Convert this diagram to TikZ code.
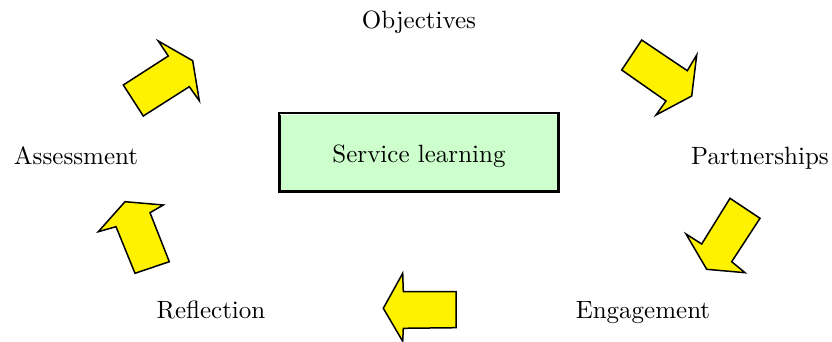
\documentclass[tikz,border=0pt]{standalone}
\usepackage{xcolor}
\usepackage{graphicx}
\usepackage{tikz}
\usetikzlibrary{positioning}

\definecolor{boxgreen}{HTML}{CCFFCC}
\newcommand{\bigtxt}[1]{\scalebox{2.5}{\fontsize{10}{12}\selectfont #1}}

\begin{document}
\begin{tikzpicture}[x=1pt, y=-1pt,
label/.style={anchor=base, inner sep=0pt},
centre/.style={rectangle, draw=black, line width=3pt, fill=boxgreen, minimum width=279pt, minimum height=77pt, inner sep=0pt},
blockarrow/.style={draw=black, fill=yellow, line width=1.5pt, line join=miter}
]
\useasboundingbox (0,0) rectangle (832,342);

%create nodes
\node[centre] (sl) at (418.5,152.5) {};
\node[label] (sltext) at (419,162.5) {\bigtxt{Service learning}};

\node[label] (obj) at (419,28.5) {\bigtxt{Objectives}};
\node[label] (part) at (760,164.5) {\bigtxt{Partnerships}};
\node[label] (eng) at (643,318.5) {\bigtxt{Engagement}};
\node[label] (refl) at (211,318.5) {\bigtxt{Reflection}};
\node[label] (ass) at (76,164.5) {\bigtxt{Assessment}};

%inner line of the box
\draw[white, line width=1pt] ([xshift=2.5pt,yshift=-2.5pt]sl.north west) -- ([xshift=-2.5pt,yshift=-2.5pt]sl.north east);

%draw arrows
\draw[blockarrow] (123.3,85) -- (168.3,56) -- (158.3,41) -- (192.7,60.7) -- (199.3,100.7) -- (189.3,86.7) -- (143.3,116) -- cycle;
\draw[blockarrow] (641.7,40) -- (687.3,70.7) -- (696.7,55) -- (691.7,96) -- (656,115) -- (666,101) -- (621.7,70) -- cycle;
\draw[blockarrow] (730,198.3) -- (760,218.3) -- (731.7,261.7) -- (745,272.7) -- (706.7,269.3) -- (686,234) -- (701.7,244) -- cycle;
\draw[blockarrow] (456,291.7) -- (456,327.7) -- (403.3,328.3) -- (402.7,341.3) -- (383.3,308.3) -- (402.7,273.3) -- (403.3,291.7) -- cycle;
\draw[blockarrow] (135,273.3) -- (169.3,261.7) -- (150,212.7) -- (163.3,205) -- (125,201.7) -- (98.3,231.7) -- (116,226.7) -- cycle;

\end{tikzpicture}
\end{document}
